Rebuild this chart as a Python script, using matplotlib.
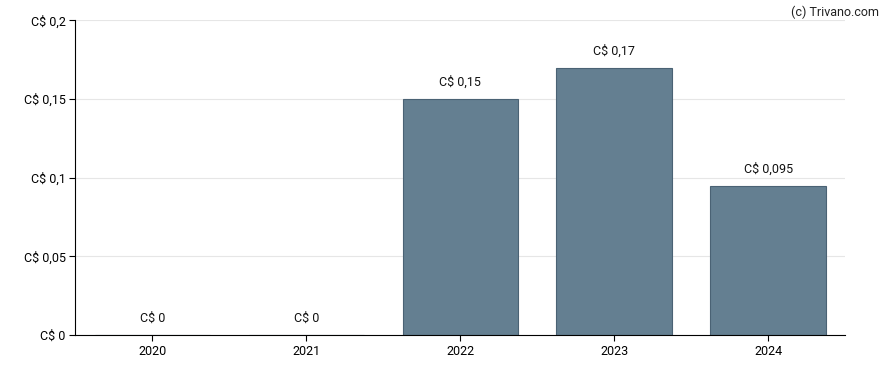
import matplotlib.pyplot as plt

years = ["2020", "2021", "2022", "2023", "2024"]
values = [0, 0, 0.15, 0.17, 0.095]
labels = ["C$ 0", "C$ 0", "C$ 0,15", "C$ 0,17", "C$ 0,095"]
yticks = [0, 0.05, 0.1, 0.15, 0.2]
ytick_labels = ["C$ 0", "C$ 0,05", "C$ 0,1", "C$ 0,15", "C$ 0,2"]

plt.rcParams['font.family'] = ['Roboto', 'DejaVu Sans']

fig = plt.figure(figsize=(8.88, 3.7), dpi=100)
ax = fig.add_axes([0.085, 0.0946, 0.8666, 0.85])

x = range(len(years))
ax.bar(x, values, width=0.75, color="#647f91", edgecolor="#4a6274", linewidth=0.8, zorder=2)
for i, (v, lab) in enumerate(zip(values, labels)):
    ax.text(i, v + 0.0065, lab, ha="center", va="bottom", fontsize=9, color="#111111")

ax.set_xlim(-0.5, len(years) - 0.5)
ax.set_ylim(0, 0.2)
ax.set_xticks(list(x))
ax.set_xticklabels(years, fontsize=9)
ax.set_yticks(yticks)
ax.set_yticklabels(ytick_labels, fontsize=9)
ax.yaxis.grid(True, color="#e6e6e6", linewidth=0.8, zorder=0)
ax.set_axisbelow(True)
for s in ["top", "right"]:
    ax.spines[s].set_visible(False)
ax.spines["left"].set_linewidth(0.8)
ax.spines["bottom"].set_linewidth(0.8)
ax.tick_params(length=4, width=0.8, pad=3)

fig.text(0.99, 0.985, "(c) Trivano.com", ha="right", va="top", fontsize=9, color="#222222")

fig.savefig("out.png", dpi=100)
